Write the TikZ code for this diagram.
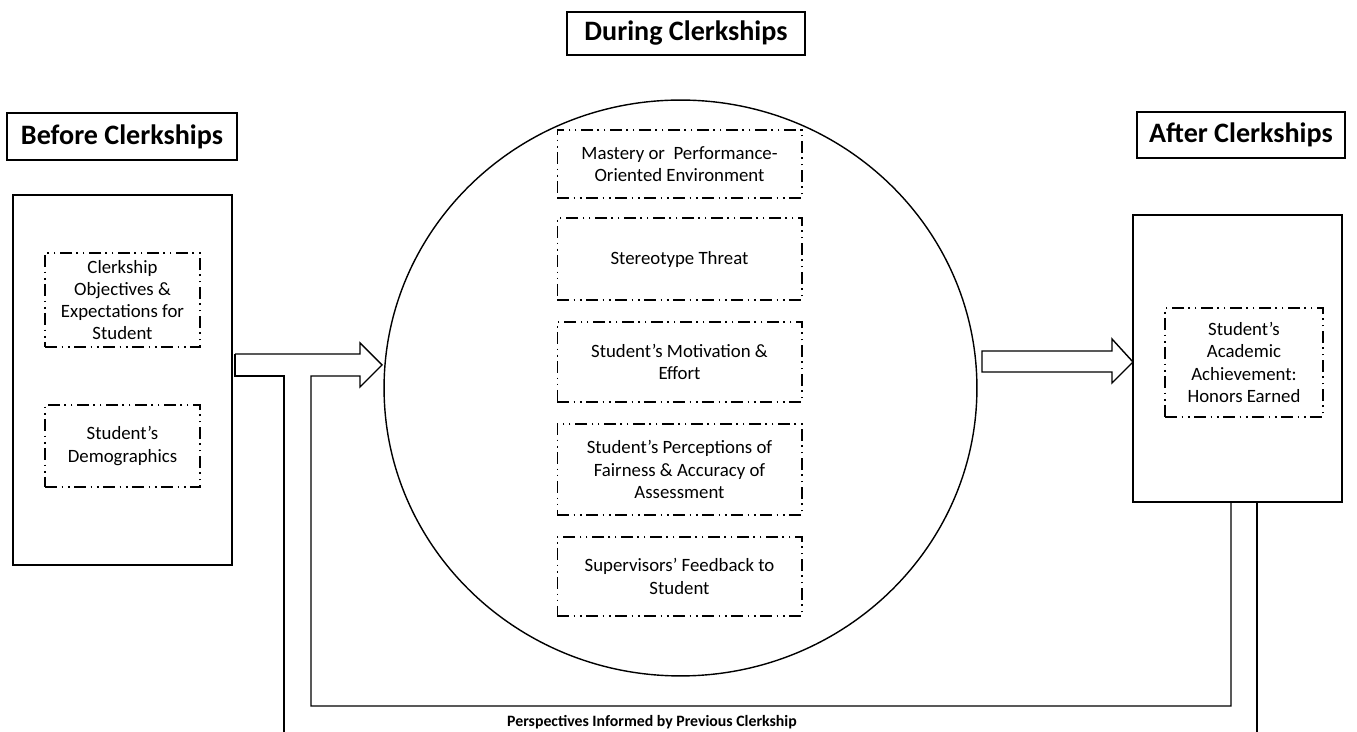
\documentclass[tikz,border=0pt]{standalone}
\usepackage{fontspec}
\setmainfont{Carlito}
\usetikzlibrary{positioning,shapes.geometric}

\begin{document}
\begin{tikzpicture}[x=0.02cm,y=-0.02cm,line width=0.8pt,
  title/.style={draw,inner sep=0pt,font=\bfseries\fontsize{16}{18}\selectfont},
  stage/.style={draw,inner sep=0pt},
  factor/.style={draw,line width=0.6pt,inner sep=0pt,align=center,
    dash pattern=on 7pt off 2.5pt on 1pt off 2.5pt on 1pt off 2.5pt,
    font=\fontsize{10.7}{12.6}\selectfont},
  shaft/.style={draw,line join=miter}]
  \useasboundingbox (0,0) rectangle (1357,732);

  \node[title,minimum width=4.6cm,minimum height=0.94cm] (before) at (122,136.5) {Before Clerkships};
  \node[title,minimum width=4.76cm,minimum height=0.86cm] (during) at (686,33.5) {During Clerkships};
  \node[title,minimum width=4.16cm,minimum height=0.92cm] (after) at (1241,135) {After Clerkships};

  \node[stage,minimum width=4.38cm,minimum height=7.4cm] (pre) at (122.5,380) {};
  \node[stage,ellipse,minimum width=11.86cm,minimum height=11.52cm] (mid) at (680.5,388) {};
  \node[stage,minimum width=4.18cm,minimum height=5.74cm] (post) at (1237.5,358.5) {};

  \node[factor,minimum width=3.1cm,minimum height=1.88cm] (objectives) at (122.5,300) {Clerkship\\Objectives \&\\Expectations for\\Student};
  \node[factor,minimum width=3.1cm,minimum height=1.64cm] (demographics) at (122.5,446) {Student’s\\Demographics};

  \node[factor,minimum width=4.9cm,minimum height=1.36cm] (environment) at (679.5,164) {Mastery or~ Performance-\\Oriented Environment};
  \node[factor,minimum width=4.9cm,minimum height=1.64cm] (threat) at (679.5,259) {Stereotype Threat};
  \node[factor,minimum width=4.9cm,minimum height=1.6cm] (motivation) at (679.5,362) {Student’s Motivation \&\\Effort};
  \node[factor,minimum width=4.9cm,minimum height=1.82cm] (fairness) at (679.5,469.5) {Student’s Perceptions of\\Fairness \& Accuracy of\\Assessment};
  \node[factor,minimum width=4.9cm,minimum height=1.58cm] (feedback) at (679.5,576.5) {Supervisors’ Feedback to\\Student};

  \node[factor,minimum width=3.16cm,minimum height=2.18cm] (honors) at (1244,362.5) {Student’s\\Academic\\Achievement:\\Honors Earned};

  \node[font=\bfseries\fontsize{9}{10}\selectfont] (perspectives) at (652,722) {Perspectives Informed by Previous Clerkship};

  \path[shaft] (235,354) -- (360,354) -- (360,343) -- (382,365) -- (360,387) -- (360,376)
    -- (311,376) -- (311,706) -- (1231,706) -- (1231,502);
  \path[shaft] (235,354) -- (235,376) -- (284,376) -- (284,732);
  \path[shaft] (1257,502) -- (1257,732);
  \path[shaft] (982,351) -- (1112,351) -- (1112,339) -- (1133,362) -- (1112,383)
    -- (1112,372) -- (982,372) -- cycle;
\end{tikzpicture}
\end{document}
